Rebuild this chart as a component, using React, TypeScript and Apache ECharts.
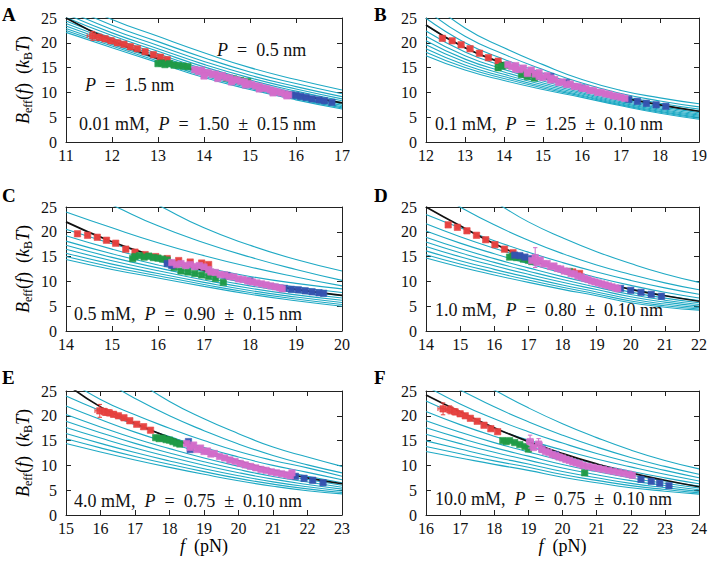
import React, { useEffect, useRef } from "react";
import * as echarts from "echarts";

// ---------------- DATA ----------------
// Panel A (0.01 mM)
const A_X = [11, 12, 13, 14, 15, 16, 17];
const A_THEORY = [
  [29.0, 24.7, 21.3, 18.0, 15.0, 12.6, 10.5],
  [27.6, 23.56, 20.24, 17.0, 14.12, 11.78, 9.73],
  [26.6, 22.7, 19.45, 16.25, 13.46, 11.17, 9.15],
  [25.8, 22.0, 18.81, 15.65, 12.93, 10.67, 8.69],
  [25.1, 21.45, 18.28, 15.15, 12.49, 10.26, 8.31],
  [24.4, 20.94, 17.8, 14.7, 12.1, 9.89, 7.96],
  [23.9, 20.48, 17.38, 14.3, 11.74, 9.57, 7.65],
  [23.4, 20.08, 17.01, 13.95, 11.44, 9.28, 7.38],
  [22.9, 19.68, 16.64, 13.6, 11.13, 8.99, 7.11],
  [22.5, 19.34, 16.32, 13.3, 10.86, 8.75, 6.88],
  [22.1, 19.0, 16.0, 13.0, 10.6, 8.5, 6.65],
];
const A_FIT = [25.0, 20.4, 16.8, 14.0, 11.6, 9.6, 7.9];
const A_RED = [[11.58, 21.4, 0.12, 0.9], [11.72, 21.1, 0.1, 0.6], [11.85, 20.8, 0.08, 0.5], [11.98, 20.4, 0.08, 0.5], [12.12, 20.0, 0.07, 0.4], [12.26, 19.7], [12.4, 19.2], [12.55, 18.8], [12.72, 18.2], [12.9, 17.6], [13.05, 17.1], [13.2, 16.6]];
const A_GREEN = [[13.0, 15.8], [13.08, 15.9], [13.15, 15.6], [13.25, 15.8], [13.35, 15.5], [13.45, 15.4], [13.55, 15.3], [13.65, 15.2], [14.5, 12.9], [14.65, 12.7], [14.8, 12.4], [14.95, 12.2]];
const A_PINK = [[13.8, 14.6], [13.88, 14.2], [13.95, 14.5], [14.02, 13.9], [14.1, 14.0], [14.18, 13.6], [14.25, 13.7], [14.33, 13.3], [14.4, 13.4], [14.48, 13.0], [14.56, 12.9], [14.64, 12.6], [14.72, 12.5], [14.8, 12.2], [14.88, 12.1], [14.96, 11.8], [15.04, 11.6], [15.12, 11.3], [15.2, 11.2], [15.28, 10.9], [15.36, 10.8], [15.44, 10.5], [15.52, 10.3], [15.6, 10.1], [15.68, 9.9], [15.76, 9.7], [15.84, 9.5], [14.0, 13.3], [14.3, 12.8], [14.6, 12.1], [14.9, 11.5], [15.2, 10.7], [15.5, 9.9], [15.8, 9.3]];
const A_BLUE = [[15.9, 9.5], [16.0, 9.4], [16.1, 9.2], [16.22, 9.0], [16.35, 8.7], [16.5, 8.5], [16.62, 8.3], [16.78, 8.0]];

// Panel B (0.1 mM)
const B_X = [12, 13, 14, 15, 16, 17, 18, 19];
const B_THEORY = [
  [29.0, 23.0, 19.0, 15.6, 12.6, 10.4, 8.9, 7.7],
  [26.68, 21.3, 17.68, 14.6, 11.88, 9.78, 8.28, 7.08],
  [24.94, 20.03, 16.69, 13.85, 11.34, 9.32, 7.82, 6.62],
  [23.55, 19.0, 15.9, 13.25, 10.91, 8.94, 7.44, 6.24],
  [22.39, 18.16, 15.24, 12.75, 10.55, 8.63, 7.13, 5.93],
  [21.34, 17.39, 14.64, 12.3, 10.22, 8.35, 6.85, 5.65],
  [20.42, 16.71, 14.12, 11.9, 9.94, 8.11, 6.61, 5.41],
  [19.6, 16.12, 13.65, 11.55, 9.68, 7.89, 6.39, 5.19],
  [18.79, 15.52, 13.19, 11.2, 9.43, 7.67, 6.17, 4.97],
  [18.1, 15.01, 12.8, 10.9, 9.22, 7.49, 5.99, 4.79],
  [17.4, 14.5, 12.4, 10.6, 9.0, 7.3, 5.8, 4.6],
];
const B_FIT = [23.6, 19.0, 15.8, 13.0, 10.9, 9.0, 7.5, 6.2];
const B_RED = [[12.42, 20.9], [12.67, 20.4], [12.9, 19.6], [13.13, 18.8], [13.37, 17.9], [13.6, 17.0], [13.85, 16.3]];
const B_GREEN = [[13.85, 15.0, 0.06, 0.6], [13.95, 15.3], [14.05, 15.5], [14.45, 13.6], [14.6, 13.2], [14.78, 12.9]];
const B_PINK = [[14.1, 15.6], [14.2, 15.2], [14.3, 15.4], [14.4, 14.6], [14.5, 14.9], [14.6, 14.1], [14.7, 14.5], [14.8, 13.7], [14.9, 14.0], [15.0, 13.0], [15.1, 13.4], [15.2, 12.5], [15.3, 12.6], [15.4, 12.0], [15.5, 12.1], [15.6, 11.6], [15.7, 11.7], [15.8, 11.2], [15.9, 11.2], [16.0, 10.8], [16.1, 10.8], [16.2, 10.4], [16.3, 10.4], [16.4, 10.0], [16.5, 10.0], [16.6, 9.7], [16.7, 9.6], [16.8, 9.3], [16.9, 9.2], [17.0, 9.0], [17.1, 8.8], [14.3, 14.7], [14.6, 13.8], [14.9, 13.2], [15.2, 12.9]];
const B_BLUE = [[15.2, 13.2], [15.6, 12.0], [16.0, 10.9], [17.2, 8.6], [17.42, 8.2], [17.65, 7.8], [17.9, 7.5], [18.15, 7.2]];

// Panel C (0.5 mM)
const C_X = [14, 15, 16, 17, 18, 19, 20];
const C_THEORY = [
  [36.0, 30.0, 25.4, 20.8, 17.3, 14.4, 12.1],
  [29.5, 25.4, 21.2, 17.8, 14.9, 12.4, 10.2],
  [24.0, 20.8, 17.8, 15.2, 12.9, 10.9, 9.1],
  [20.5, 17.6, 15.0, 12.8, 11.0, 9.6, 8.5],
  [19.22, 16.51, 14.1, 12.0, 10.24, 8.87, 7.77],
  [18.12, 15.57, 13.32, 11.32, 9.6, 8.24, 7.14],
  [17.27, 14.84, 12.72, 10.79, 9.09, 7.75, 6.65],
  [16.47, 14.17, 12.16, 10.29, 8.62, 7.29, 6.19],
  [15.68, 13.49, 11.6, 9.8, 8.16, 6.84, 5.74],
  [15.01, 12.92, 11.13, 9.38, 7.76, 6.45, 5.35],
  [14.4, 12.4, 10.7, 9.0, 7.4, 6.1, 5.0],
];
const C_FIT = [22.0, 18.0, 14.9, 12.2, 10.0, 8.4, 7.2];
const C_RED = [[14.25, 19.6], [14.47, 19.3], [14.68, 18.9], [14.88, 18.3], [15.08, 17.7], [15.3, 16.5], [15.5, 15.9], [15.72, 15.4], [15.95, 15.0], [16.2, 14.6], [16.45, 14.2], [16.7, 13.9], [16.95, 13.7], [17.1, 13.4]];
const C_GREEN = [[15.45, 14.6], [15.5, 15.0], [15.6, 15.2], [15.7, 14.9], [15.8, 15.1], [15.9, 14.8], [16.0, 14.7], [16.1, 14.5], [16.2, 14.3], [16.35, 12.8], [16.5, 12.1], [16.65, 11.9], [16.8, 11.6], [16.95, 11.3], [17.1, 11.0], [17.25, 10.6], [17.42, 9.8]];
const C_PINK = [[16.3, 13.8], [16.4, 13.4], [16.5, 13.6], [16.6, 13.2], [16.7, 13.4], [16.8, 13.0], [16.9, 13.2], [17.0, 12.9], [17.1, 12.4], [17.15, 11.9], [17.25, 11.8], [17.35, 11.4], [17.45, 11.3], [17.55, 11.0], [17.65, 10.9], [17.75, 10.5], [17.85, 10.4], [17.95, 10.1], [18.05, 9.9], [18.15, 9.7], [18.25, 9.5], [18.35, 9.3], [18.45, 9.1], [18.55, 8.9], [18.65, 8.7], [18.7, 8.5]];
const C_BLUE = [[16.2, 13.6], [16.3, 13.2], [17.5, 11.2], [18.0, 10.1], [18.75, 8.6], [18.9, 8.4], [19.05, 8.3], [19.2, 8.1], [19.35, 7.9], [19.5, 7.7], [19.6, 7.6]];

// Panel D (1.0 mM)
const D_X = [14, 15, 16, 17, 18, 19, 20, 21, 22];
const D_THEORY = [
  [34.0, 29.5, 26.0, 22.0, 18.8, 16.0, 13.6, 11.5, 9.8],
  [29.0, 25.0, 21.4, 18.3, 15.6, 13.3, 11.4, 9.7, 8.3],
  [23.5, 20.8, 18.2, 15.9, 13.8, 11.9, 10.2, 8.7, 7.4],
  [21.6, 19.0, 16.7, 14.6, 12.6, 10.8, 9.2, 7.8, 6.65],
  [20.15, 17.72, 15.57, 13.59, 11.72, 10.02, 8.47, 7.17, 6.14],
  [18.91, 16.62, 14.59, 12.73, 10.96, 9.36, 7.84, 6.63, 5.69],
  [17.94, 15.77, 13.84, 12.06, 10.37, 8.84, 7.35, 6.21, 5.35],
  [17.05, 14.97, 13.14, 11.43, 9.83, 8.36, 6.89, 5.82, 5.03],
  [16.15, 14.18, 12.43, 10.81, 9.28, 7.88, 6.44, 5.43, 4.71],
  [15.39, 13.51, 11.84, 10.28, 8.82, 7.47, 6.05, 5.1, 4.45],
  [14.7, 12.9, 11.3, 9.8, 8.4, 7.1, 5.7, 4.8, 4.2],
];
const D_FIT = [25.0, 21.2, 17.6, 14.6, 12.2, 10.1, 8.4, 7.1, 6.0];
const D_RED = [[14.65, 21.4], [14.92, 20.9], [15.2, 20.2], [15.48, 19.3], [15.75, 18.4], [16.02, 17.4], [16.3, 16.5], [16.55, 15.8], [18.3, 11.9], [18.5, 11.6]];
const D_GREEN = [[16.45, 14.9], [16.55, 15.1], [16.65, 14.8], [16.75, 15.0], [16.85, 14.5], [17.0, 14.3], [17.1, 14.0], [18.2, 12.0]];
const D_PINK = [[17.1, 14.2], [17.2, 14.8, 0.08, 2.0], [17.25, 13.8], [17.35, 14.3], [17.45, 13.5], [17.55, 13.6], [17.65, 13.0], [17.75, 13.1], [17.85, 12.6], [17.95, 12.5], [18.05, 12.1], [18.15, 12.0], [18.25, 11.6], [18.35, 11.5], [18.45, 11.1], [18.55, 10.9], [18.65, 10.6], [18.75, 10.4], [18.85, 10.1], [18.95, 9.9], [19.05, 9.7], [19.15, 9.5], [19.25, 9.3], [19.35, 9.1], [19.45, 8.9], [19.55, 8.7], [19.62, 8.5]];
const D_BLUE = [[16.6, 15.3], [16.75, 15.2], [16.9, 14.9], [17.1, 14.6], [19.7, 8.6], [20.0, 8.2], [20.3, 7.8], [20.6, 7.4], [20.9, 7.0, 0.05, 0.5]];

// Panel E (4.0 mM)
const E_X = [15, 16, 17, 18, 19, 20, 21, 22, 23];
const E_THEORY = [
  [38.0, 32.0, 27.3, 22.9, 19.4, 16.4, 13.7, 11.7, 9.8],
  [31.0, 27.5, 23.5, 20.0, 17.0, 14.3, 12.0, 10.1, 8.5],
  [27.5, 23.3, 20.2, 17.5, 15.0, 12.8, 11.0, 9.5, 7.8],
  [24.0, 21.0, 18.2, 15.8, 13.6, 11.7, 10.0, 8.6, 7.1],
  [21.98, 19.26, 16.71, 14.5, 12.47, 10.69, 9.12, 7.82, 6.5],
  [20.26, 17.76, 15.43, 13.38, 11.49, 9.83, 8.36, 7.16, 5.99],
  [18.91, 16.6, 14.44, 12.51, 10.74, 9.16, 7.77, 6.64, 5.59],
  [17.66, 15.52, 13.51, 11.71, 10.04, 8.53, 7.23, 6.16, 5.22],
  [16.42, 14.44, 12.59, 10.9, 9.33, 7.91, 6.68, 5.68, 4.85],
  [15.36, 13.53, 11.81, 10.22, 8.74, 7.38, 6.22, 5.27, 4.54],
  [14.4, 12.7, 11.1, 9.6, 8.2, 6.9, 5.8, 4.9, 4.25],
];
const E_FIT = [26.5, 21.8, 18.5, 15.6, 13.1, 10.9, 9.0, 7.5, 6.3];
const E_RED = [[15.98, 21.0, 0.14, 1.3], [16.12, 20.8, 0.1, 0.7], [16.25, 20.6, 0.1, 0.6], [16.38, 20.3, 0.08, 0.5], [16.52, 20.0], [16.68, 19.6], [16.85, 19.0], [17.05, 18.3], [17.25, 17.8], [17.45, 17.1]];
const E_GREEN = [[17.6, 15.6], [17.7, 15.4], [17.8, 15.5], [17.9, 15.2], [18.0, 15.1], [18.1, 14.8], [18.2, 14.5], [18.3, 14.3]];
const E_PINK = [[18.5, 14.4], [18.6, 13.6], [18.7, 14.1], [18.8, 13.2], [18.9, 13.5], [19.0, 12.8], [19.1, 12.9], [19.2, 12.3], [19.3, 12.4], [19.45, 11.8], [19.6, 11.5], [19.75, 11.1], [19.9, 10.8], [20.05, 10.4], [20.2, 10.1], [20.35, 9.8], [20.5, 9.5], [20.65, 9.2], [20.8, 9.0], [20.95, 8.7], [21.1, 8.5], [21.25, 8.3], [21.4, 8.1], [21.5, 7.9], [21.55, 8.5]];
const E_BLUE = [[18.55, 14.8], [18.6, 13.2], [21.65, 7.8], [21.9, 7.4], [22.15, 7.0], [22.45, 6.5]];

// Panel F (10.0 mM)
const F_X = [16, 17, 18, 19, 20, 21, 22, 23, 24];
const F_THEORY = [
  [33.0, 28.8, 25.2, 21.6, 18.4, 15.6, 13.1, 11.0, 9.3],
  [28.5, 25.2, 21.8, 18.8, 16.1, 13.7, 11.6, 9.8, 8.2],
  [26.0, 22.4, 19.4, 16.8, 14.5, 12.4, 10.6, 9.0, 7.5],
  [23.0, 20.0, 17.4, 15.1, 13.1, 11.3, 9.7, 8.2, 6.85],
  [20.86, 18.22, 15.89, 13.82, 11.95, 10.29, 8.82, 7.49, 6.29],
  [19.02, 16.69, 14.59, 12.72, 10.96, 9.43, 8.06, 6.87, 5.82],
  [17.59, 15.5, 13.58, 11.87, 10.19, 8.76, 7.47, 6.4, 5.45],
  [16.27, 14.39, 12.65, 11.07, 9.47, 8.13, 6.93, 5.96, 5.1],
  [14.94, 13.29, 11.71, 10.28, 8.76, 7.51, 6.38, 5.51, 4.76],
  [13.82, 12.35, 10.92, 9.61, 8.15, 6.98, 5.92, 5.14, 4.47],
  [12.8, 11.5, 10.2, 9.0, 7.6, 6.5, 5.5, 4.8, 4.2],
];
const F_FIT = [24.2, 20.8, 17.6, 14.8, 12.4, 10.3, 8.5, 7.0, 5.7];
const F_RED = [[16.5, 21.4, 0.15, 1.2], [16.7, 21.2, 0.12, 0.8], [16.85, 20.8, 0.1, 0.6], [17.0, 20.4, 0.08, 0.5], [17.15, 20.0], [17.3, 19.5], [17.5, 18.9], [17.7, 18.1], [17.9, 17.4], [18.1, 16.8]];
const F_GREEN = [[18.25, 15.0], [18.35, 14.8], [18.45, 15.0], [18.6, 14.6], [18.75, 14.2], [18.9, 13.8], [19.0, 13.3], [20.65, 8.5]];
const F_PINK = [[19.05, 14.8, 0.1, 1.3], [19.3, 14.3, 0.1, 1.1], [19.15, 13.6], [19.4, 13.2], [19.5, 12.8], [19.6, 12.6], [19.7, 12.2], [19.8, 12.0], [19.9, 11.7], [20.0, 11.5], [20.1, 11.2], [20.2, 11.0], [20.3, 10.7], [20.4, 10.5], [20.5, 10.3], [20.6, 10.0], [20.75, 9.8], [20.9, 9.6], [21.05, 9.4], [21.2, 9.2], [21.35, 9.0], [21.5, 8.8], [21.65, 8.6], [21.8, 8.4], [21.95, 8.2], [22.05, 8.0]];
const F_BLUE = [[19.4, 13.3], [19.8, 12.2], [22.3, 7.2], [22.6, 6.8], [22.85, 6.4], [23.12, 5.9]];

const DEFAULT_ERR = [0.04, 0.3];
const Y_TICKS_MAX = 25;

const NOTES = [
  { conc: "0.01 mM,", p: "1.50", e: "0.15" },
  { conc: "0.1 mM,", p: "1.25", e: "0.10" },
  { conc: "0.5 mM,", p: "0.90", e: "0.15" },
  { conc: "1.0 mM,", p: "0.80", e: "0.10" },
  { conc: "4.0 mM,", p: "0.75", e: "0.10" },
  { conc: "10.0 mM,", p: "0.75", e: "0.10" },
];
const LETTERS = ["A", "B", "C", "D", "E", "F"];

// ---------------- STYLE / LAYOUT ----------------
const SERIF = "Liberation Serif";
const CYAN = "#1ea9c4";
const RED = "#e6403e";
const GREEN = "#1f9a46";
const PINK = "#d36dca";
const BLUE = "#3553b0";
const AXIS = "#222";

const LAYOUT = [
  { left: 66, top: 18 },
  { left: 426, top: 18 },
  { left: 66, top: 207 },
  { left: 426, top: 207 },
  { left: 66, top: 391 },
  { left: 426, top: 391 },
];
const W = 276;
const H = 124;
const NOTE_POS = [
  [79, 125],
  [435, 125],
  [74, 315],
  [435, 311],
  [74, 502],
  [435, 500],
];
const LETTER_POS = [
  [2, 5],
  [374, 5],
  [2, 186],
  [374, 186],
  [2, 368],
  [374, 368],
];

const PANELS = [
  { xs: A_X, theory: A_THEORY, fit: A_FIT, red: A_RED, green: A_GREEN, pink: A_PINK, blue: A_BLUE },
  { xs: B_X, theory: B_THEORY, fit: B_FIT, red: B_RED, green: B_GREEN, pink: B_PINK, blue: B_BLUE },
  { xs: C_X, theory: C_THEORY, fit: C_FIT, red: C_RED, green: C_GREEN, pink: C_PINK, blue: C_BLUE },
  { xs: D_X, theory: D_THEORY, fit: D_FIT, red: D_RED, green: D_GREEN, pink: D_PINK, blue: D_BLUE },
  { xs: E_X, theory: E_THEORY, fit: E_FIT, red: E_RED, green: E_GREEN, pink: E_PINK, blue: E_BLUE },
  { xs: F_X, theory: F_THEORY, fit: F_FIT, red: F_RED, green: F_GREEN, pink: F_PINK, blue: F_BLUE },
];

const makeRender = (color: string) => (params: any, api: any) => {
  const x = api.value(0);
  const y = api.value(1);
  const ex = api.value(2);
  const ey = api.value(3);
  const c = api.coord([x, y]);
  const l = api.coord([x - ex, y]);
  const r = api.coord([x + ex, y]);
  const t = api.coord([x, y + ey]);
  const b = api.coord([x, y - ey]);
  const h = 3.2;
  const cap = 2.2;
  const ls = { stroke: color, lineWidth: 1 };
  return {
    type: "group",
    children: [
      { type: "line", shape: { x1: l[0], y1: c[1], x2: r[0], y2: c[1] }, style: ls },
      { type: "line", shape: { x1: c[0], y1: t[1], x2: c[0], y2: b[1] }, style: ls },
      { type: "line", shape: { x1: l[0], y1: c[1] - cap, x2: l[0], y2: c[1] + cap }, style: ls },
      { type: "line", shape: { x1: r[0], y1: c[1] - cap, x2: r[0], y2: c[1] + cap }, style: ls },
      { type: "line", shape: { x1: c[0] - cap, y1: t[1], x2: c[0] + cap, y2: t[1] }, style: ls },
      { type: "line", shape: { x1: c[0] - cap, y1: b[1], x2: c[0] + cap, y2: b[1] }, style: ls },
      {
        type: "rect",
        shape: { x: c[0] - h, y: c[1] - h, width: 2 * h, height: 2 * h },
        style: { fill: color, stroke: color, lineWidth: 0.6, opacity: 0.92 },
      },
    ],
  };
};

const withErr = (pts: number[][]) =>
  pts.map((p) => [p[0], p[1], p.length > 2 ? p[2] : DEFAULT_ERR[0], p.length > 3 ? p[3] : DEFAULT_ERR[1]]);

const axisCommon = {
  type: "value",
  splitLine: { show: false },
  axisLine: { show: true, onZero: false, lineStyle: { color: AXIS, width: 1 } },
  axisTick: { show: true, inside: true, length: 5, lineStyle: { color: AXIS, width: 1 } },
};

const richLabel = {
  i: { fontFamily: SERIF, fontStyle: "italic", fontSize: 18, lineHeight: 22, color: "#000" },
  r: { fontFamily: SERIF, fontSize: 18, lineHeight: 22, color: "#000" },
  s: { fontFamily: SERIF, fontSize: 12, lineHeight: 12, verticalAlign: "bottom", color: "#000" },
};

const noteRich = {
  n: { fontFamily: SERIF, fontSize: 18, fill: "#111" },
  i: { fontFamily: SERIF, fontSize: 18, fontStyle: "italic", fill: "#111" },
};

function buildOption() {
  const grid: any[] = [];
  const xAxis: any[] = [];
  const yAxis: any[] = [];
  const series: any[] = [];
  const graphic: any[] = [];

  PANELS.forEach((p, i) => {
    const { left, top } = LAYOUT[i];
    grid.push({ left, top, width: W, height: H });
    const xMin = p.xs[0];
    const xMax = p.xs[p.xs.length - 1];
    xAxis.push({
      ...axisCommon,
      gridIndex: i,
      position: "bottom",
      min: xMin,
      max: xMax,
      interval: 1,
      axisLabel: { fontFamily: SERIF, fontSize: 16, color: "#111", margin: 5 },
      name: i >= 4 ? "{i|f}{r|  (pN)}" : "",
      nameLocation: "middle",
      nameGap: 20,
      nameTextStyle: { fontFamily: SERIF, rich: richLabel },
    });
    xAxis.push({
      ...axisCommon,
      gridIndex: i,
      position: "top",
      min: xMin,
      max: xMax,
      interval: 1,
      axisLabel: { show: false },
    });
    yAxis.push({
      ...axisCommon,
      gridIndex: i,
      position: "left",
      min: 0,
      max: Y_TICKS_MAX,
      interval: 5,
      axisLabel: { fontFamily: SERIF, fontSize: 16, color: "#111", margin: 9 },
      name: i % 2 === 0 ? "{i|B}{s|eff}{r|(}{i|f}{r|)  (}{i|k}{s|B}{i|T}{r|)}" : "",
      nameLocation: "middle",
      nameGap: 32,
      nameTextStyle: { fontFamily: SERIF, rich: richLabel },
    });
    yAxis.push({
      ...axisCommon,
      gridIndex: i,
      position: "right",
      min: 0,
      max: Y_TICKS_MAX,
      interval: 5,
      axisLabel: { show: false },
    });

    const xi = 2 * i;
    p.theory.forEach((curve) => {
      series.push({
        type: "line",
        xAxisIndex: xi,
        yAxisIndex: xi,
        data: p.xs.map((x, j) => [x, curve[j]]),
        smooth: 0.5,
        symbol: "none",
        silent: true,
        clip: true,
        lineStyle: { color: CYAN, width: 1.1 },
        z: 2,
      });
    });
    series.push({
      type: "line",
      xAxisIndex: xi,
      yAxisIndex: xi,
      data: p.xs.map((x, j) => [x, p.fit[j]]),
      smooth: 0.5,
      symbol: "none",
      silent: true,
      clip: true,
      lineStyle: { color: "#111", width: 1.7 },
      z: 3,
    });
    const sets: [number[][], string][] = [
      [p.red, RED],
      [p.green, GREEN],
      [p.blue, BLUE],
      [p.pink, PINK],
    ];
    sets.forEach(([pts, color], k) => {
      series.push({
        type: "custom",
        xAxisIndex: xi,
        yAxisIndex: xi,
        coordinateSystem: "cartesian2d",
        data: withErr(pts),
        encode: { x: 0, y: 1 },
        renderItem: makeRender(color),
        clip: true,
        silent: true,
        z: 4 + k,
      });
    });

    const [nx, ny] = NOTE_POS[i];
    const n = NOTES[i];
    graphic.push({
      type: "text",
      left: nx,
      top: ny - 10,
      z: 100,
      style: {
        text: `{n|${n.conc}  }{i|P}{n|  =  ${n.p}  ±  ${n.e} nm}`,
        fontFamily: SERIF,
        rich: noteRich,
      },
    });
    const [lx, ly] = LETTER_POS[i];
    graphic.push({
      type: "text",
      left: lx,
      top: ly,
      z: 100,
      style: { text: LETTERS[i], fontFamily: SERIF, fontSize: 19, fontWeight: "bold", fill: "#000" },
    });
  });

  graphic.push({
    type: "text",
    left: 217,
    top: 41,
    z: 100,
    style: { text: "{i|P}{n|  =  0.5 nm}", fontFamily: SERIF, rich: noteRich },
  });
  graphic.push({
    type: "text",
    left: 85,
    top: 76,
    z: 100,
    style: { text: "{i|P}{n|  =  1.5 nm}", fontFamily: SERIF, rich: noteRich },
  });

  return { animation: false, backgroundColor: "#fff", textStyle: { fontFamily: SERIF }, grid, xAxis, yAxis, series, graphic };
}

export default function App() {
  const ref = useRef<HTMLDivElement>(null);
  useEffect(() => {
    if (!ref.current) return;
    const chart = echarts.init(ref.current, undefined, { renderer: "svg" });
    chart.setOption(buildOption() as any);
    return () => chart.dispose();
  }, []);
  return (
    <div
      ref={ref}
      style={{ position: "absolute", left: 0, top: 0, width: 710, height: 563, background: "#fff" }}
    />
  );
}
